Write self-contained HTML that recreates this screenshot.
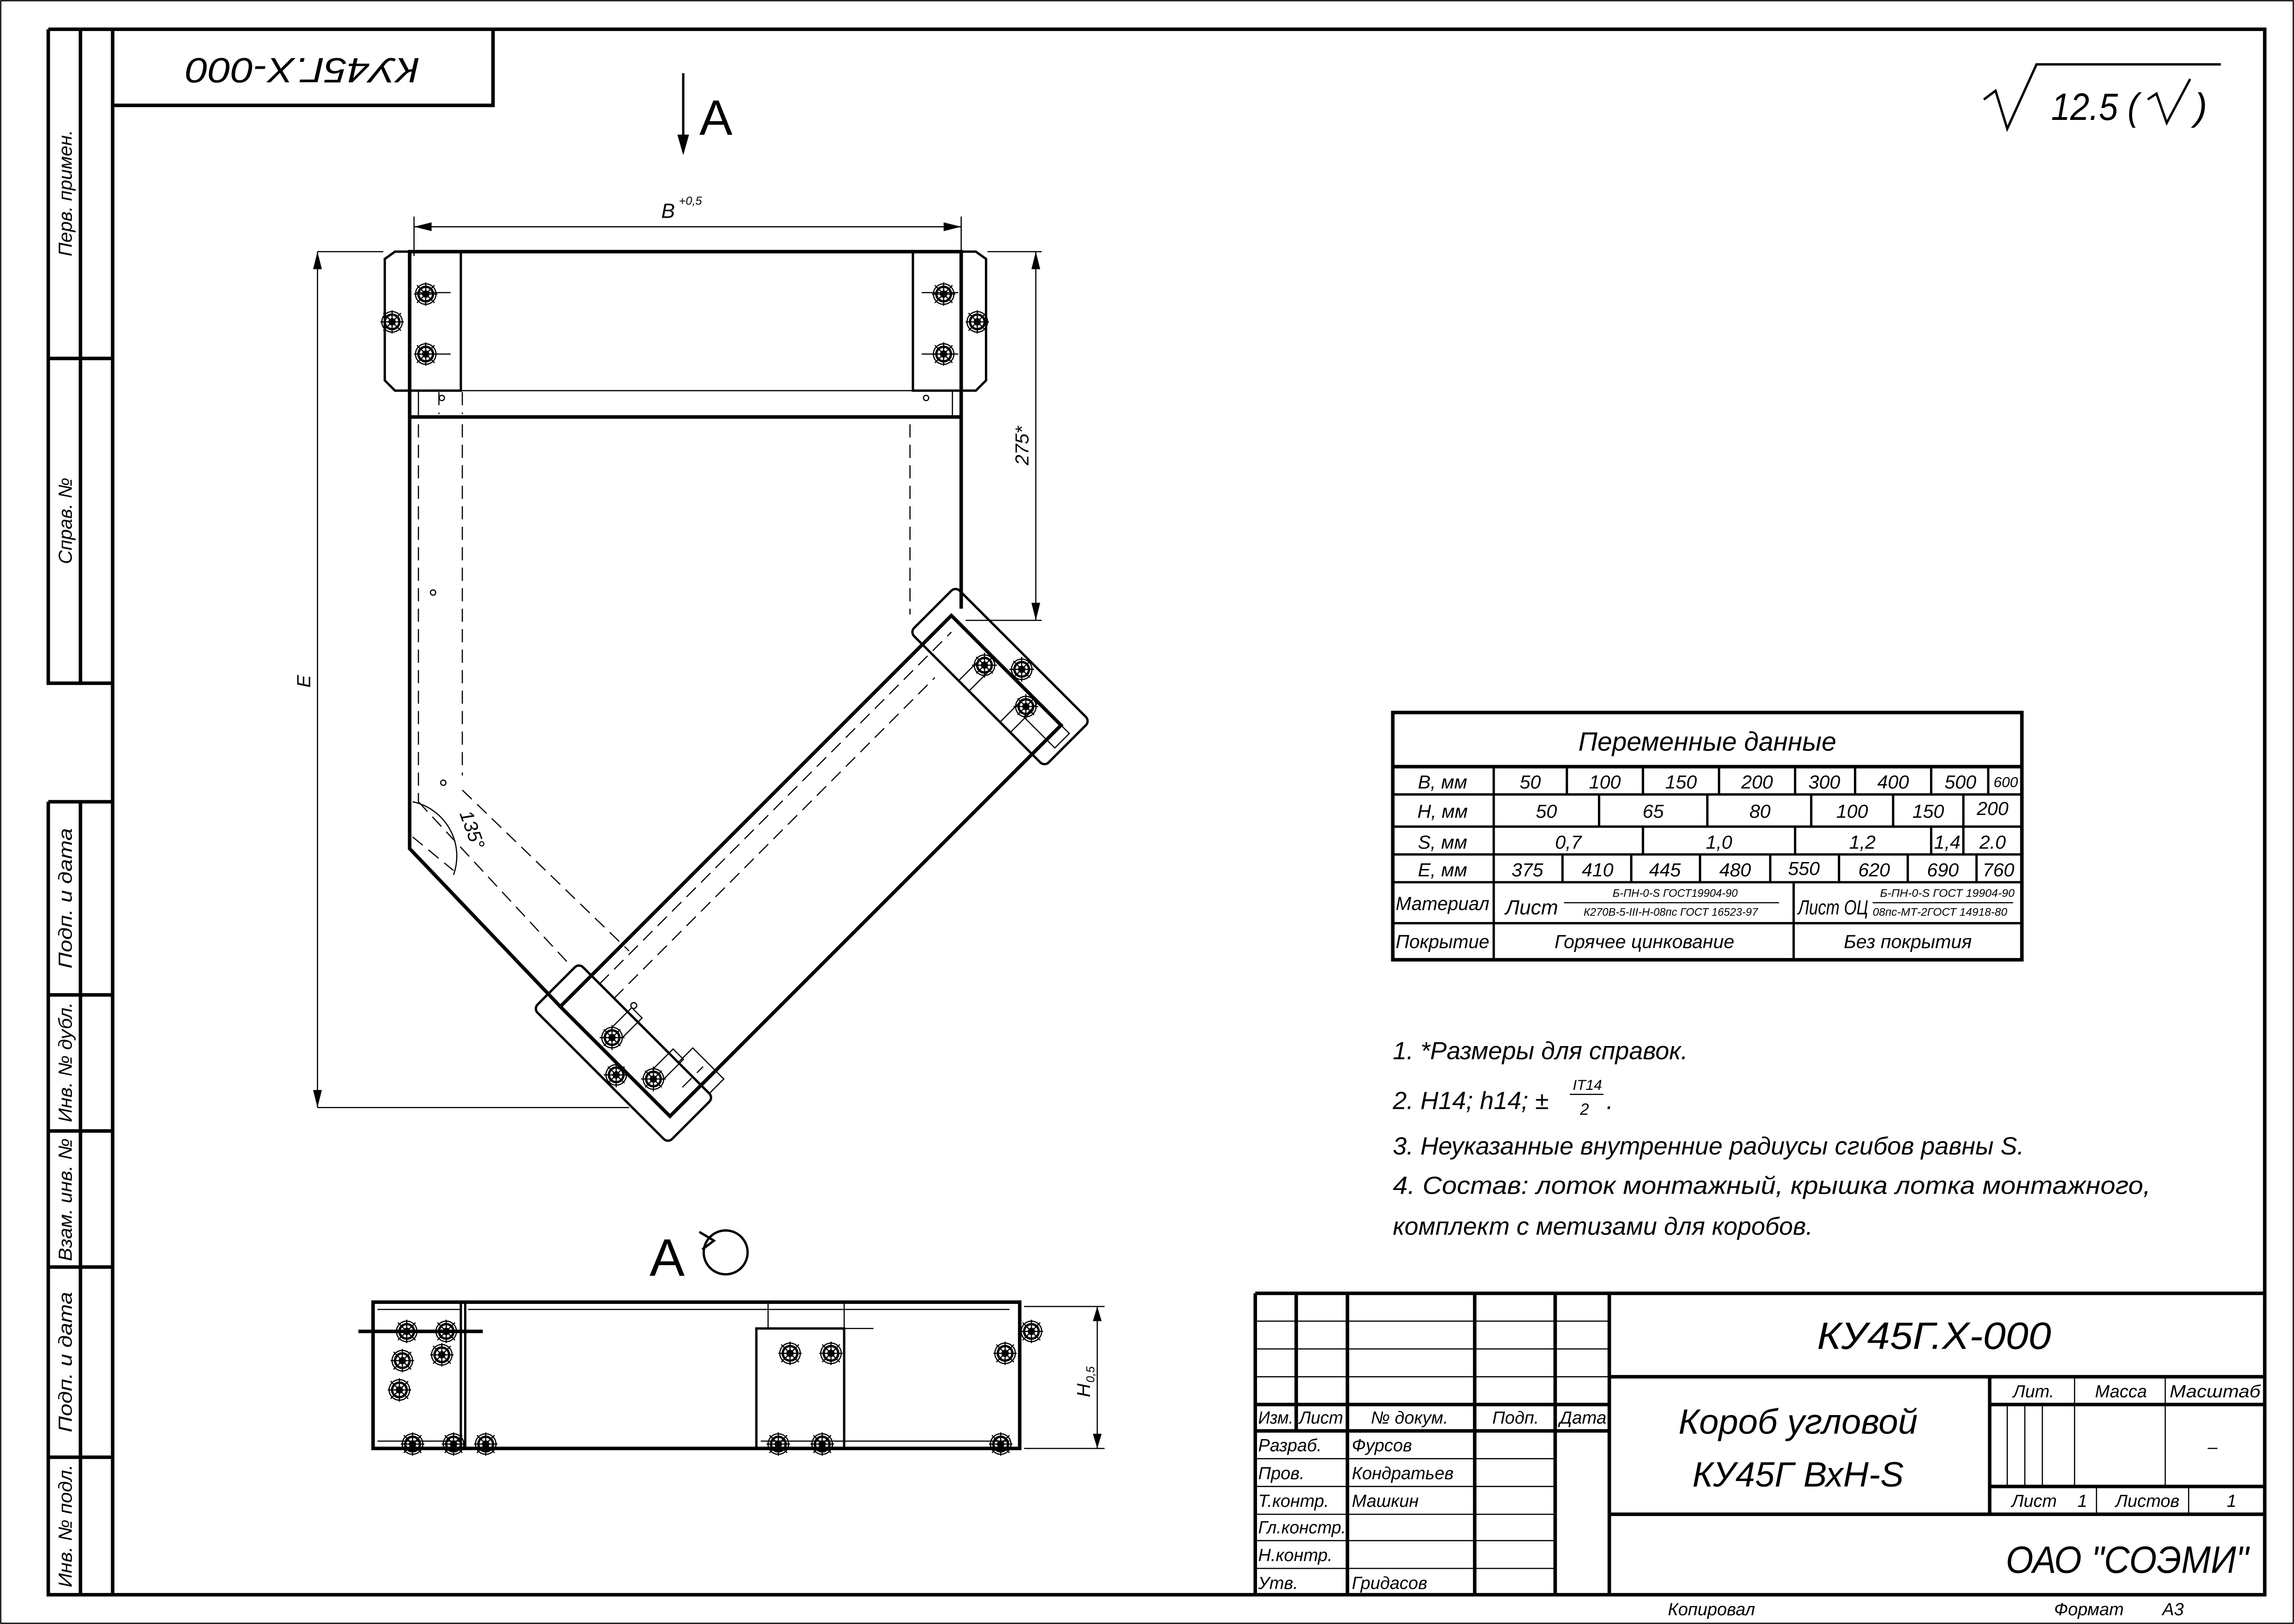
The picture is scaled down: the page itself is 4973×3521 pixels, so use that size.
<!DOCTYPE html>
<html><head><meta charset="utf-8"><style>
html,body{margin:0;padding:0;background:#fff}
svg{display:block}
text{font-family:"Liberation Sans","DejaVu Sans",sans-serif;font-style:italic;fill:#000}
.t{stroke:#000;stroke-width:0.8;fill:none}
.m{stroke:#000;stroke-width:1.6;fill:none}
.k{stroke:#000;stroke-width:2.4;fill:none}
.d{stroke:#000;stroke-width:0.8;fill:none;stroke-dasharray:9 5}
</style></head><body>
<svg width="4973" height="3521" viewBox="0 0 1568 1110" preserveAspectRatio="none" xmlns="http://www.w3.org/2000/svg">
<defs>
<g id="bolt"><circle r="7" class="t"/><circle r="5" class="m"/><circle r="2.5" fill="#000"/><path d="M-8 0H8M0-8V8M-6-6L6 6M-6 6L6-6" class="t"/></g>
</defs>
<rect x="0.5" y="0.5" width="1567" height="1109" class="t"/>
<rect x="77" y="20" width="1471" height="1070" class="k"/>
<path d="M33 20V467H77M55 20V467M33 245H77M33 20H77" class="k"/>
<path d="M33 548V1090H77M55 548V1090M33 548H77M33 680H77M33 773H77M33 866H77M33 996H77" class="k"/>
<g font-size="13">
<text transform="translate(49,132) rotate(-90)" text-anchor="middle">Перв. примен.</text>
<text transform="translate(49,356) rotate(-90)" text-anchor="middle">Справ. №</text>
<text transform="translate(49,614) rotate(-90)" text-anchor="middle" textLength="96" lengthAdjust="spacingAndGlyphs">Подп. и дата</text>
<text transform="translate(49,726) rotate(-90)" text-anchor="middle" textLength="82" lengthAdjust="spacingAndGlyphs">Инв. № дубл.</text>
<text transform="translate(49,820) rotate(-90)" text-anchor="middle" textLength="84" lengthAdjust="spacingAndGlyphs">Взам. инв. №</text>
<text transform="translate(49,931) rotate(-90)" text-anchor="middle" textLength="96" lengthAdjust="spacingAndGlyphs">Подп. и дата</text>
<text transform="translate(49,1043) rotate(-90)" text-anchor="middle" textLength="84" lengthAdjust="spacingAndGlyphs">Инв. № подл.</text>
</g>
<path d="M77 72H337V20" class="k"/>
<text transform="translate(207,46) rotate(180)" text-anchor="middle" dominant-baseline="middle" font-size="24" textLength="160" lengthAdjust="spacingAndGlyphs">КУ45Г.Х-000</text>
<path d="M1356 68L1364 62L1372 88L1392 44H1518" class="m"/>
<text x="1402" y="82" font-size="26" textLength="60" lengthAdjust="spacingAndGlyphs">12.5 (</text>
<path d="M1468 68L1474 64L1481 84L1497 54" class="m"/>
<text x="1500" y="82" font-size="26">)</text>
<path d="M467 50V104" class="m"/><path d="M467 106L463 92H471Z" fill="#000"/>
<text x="478" y="92" font-size="34" style="font-style:normal">A</text>

<path d="M283 155H657M283 148V175M657 148V175" class="t"/>
<path d="M283 155l12-3v6zM657 155l-12-3v6z" fill="#000"/>
<text x="452" y="149" font-size="14">B</text><text x="464" y="140" font-size="8">+0,5</text>
<path d="M217 172H262M217 172V757M217 757H430" class="t"/>
<path d="M217 172l-3 12h6zM217 757l-3-12h6z" fill="#000"/>
<text transform="translate(212,470) rotate(-90)" font-size="13">E</text>
<path d="M675 172H712M708 172V424M660 424H712" class="t"/>
<path d="M708 172l-3 12h6zM708 424l-3-12h6z" fill="#000"/>
<text transform="translate(703,318) rotate(-90)" font-size="13">275*</text>

<rect x="280" y="172" width="377" height="113" class="k"/>
<path d="M263 177L270 172H315V267H270L263 260Z" class="m"/>
<path d="M674 177L667 172H624V267H667L674 260Z" class="m"/>
<path d="M286 285V267H651V285" class="t"/>
<path d="M300 268V283M316 268V283" class="d"/>
<circle cx="302" cy="272" r="1.8" class="t"/><circle cx="633" cy="272" r="1.8" class="t"/>
<path d="M280 285V580L383 688" class="k"/>
<path d="M657 285V416" class="k"/>
<path d="M286 290V548M316 290V530M622 290V420" class="d"/>
<path d="M286 548L390 660M316 540L430 650" class="d"/>
<circle cx="296" cy="405" r="1.8" class="t"/><circle cx="303" cy="535" r="1.8" class="t"/>
<use href="#bolt" x="291" y="201"/><use href="#bolt" x="268" y="220"/><use href="#bolt" x="291" y="242"/>
<use href="#bolt" x="645" y="201"/><use href="#bolt" x="668" y="220"/><use href="#bolt" x="645" y="242"/>
<path d="M284 200H308M284 242H308M630 200H655M630 242H655" class="t"/>
<path d="M282 548A38 38 0 0 1 310 598" class="t"/>
<path d="M282 572L310 595" class="d"/>
<text transform="translate(314,556) rotate(70)" font-size="13">135°</text>

<g transform="translate(383,688) rotate(-45)">
<rect x="0" y="0" width="378" height="106" class="k"/>
<path d="M30 8H370M30 22H340M20 98H40" class="d"/>
<rect x="-14" y="-12" width="44" height="130" rx="4" class="m"/>
<rect x="350" y="-12" width="44" height="130" rx="4" class="m"/>
<rect x="30" y="84" width="14" height="30" class="t"/>
<rect x="364" y="84" width="14" height="30" class="t"/>
<circle cx="36" cy="35" r="2" class="t"/>
<use href="#bolt" x="10" y="40"/><use href="#bolt" x="10" y="80"/><use href="#bolt" x="-6" y="60"/>
<use href="#bolt" x="370" y="40"/><use href="#bolt" x="370" y="80"/><use href="#bolt" x="386" y="60"/>
<path d="M14 35h20v10h-20M14 75h20v10h-20M350 35h20v10h-20M350 75h20v10h-20" class="t"/>
</g>

<text x="444" y="872" font-size="36" style="font-style:normal">A</text>
<circle cx="496" cy="856" r="15" class="m"/><path d="M478 842L488 848L480 854" class="m"/>

<rect x="255" y="890" width="442" height="100" class="k"/>
<path d="M318 890V990M315 890V990" class="m"/>
<path d="M245 910H330" class="k"/>
<rect x="517" y="908" width="60" height="82" class="m"/>
<path d="M525 890V908M577 890V908M577 908H597" class="t"/>
<path d="M258 895H315M258 985H315M520 985H690M320 895H690" class="t"/>
<use href="#bolt" x="278" y="910"/><use href="#bolt" x="305" y="910"/><use href="#bolt" x="275" y="930"/><use href="#bolt" x="302" y="926"/><use href="#bolt" x="273" y="950"/>
<use href="#bolt" x="540" y="925"/><use href="#bolt" x="568" y="925"/><use href="#bolt" x="705" y="910"/><use href="#bolt" x="687" y="925"/>
<use href="#bolt" x="282" y="987"/><use href="#bolt" x="310" y="987"/><use href="#bolt" x="332" y="987"/><use href="#bolt" x="532" y="987"/><use href="#bolt" x="562" y="987"/><use href="#bolt" x="684" y="987"/>
<path d="M700 893H755M700 990H755M750 893V990" class="t"/>
<path d="M750 893l-3 10h6zM750 990l-3-10h6z" fill="#000"/>
<text transform="translate(745,955) rotate(-90)" font-size="13">H</text><text transform="translate(748,945) rotate(-90)" font-size="8">0,5</text>

<g class="k"><rect x="952" y="487" width="430" height="169"/><path d="M952 524H1382"/></g>
<path d="M952 543H1382M952 565H1382M952 584H1382M952 603H1382M952 631H1382M1021 524V656M1226 603V656" class="m"/>
<path d="M1071 524V543M1123 524V543M1175 524V543M1227 524V543M1268 524V543M1320 524V543M1359 524V543" class="m"/>
<path d="M1093 543V565M1167 543V565M1238 543V565M1294 543V565M1342 543V565" class="m"/>
<path d="M1123 565V584M1227 565V584M1320 565V584M1342 565V584" class="m"/>
<path d="M1068 584V603M1115 584V603M1162 584V603M1210 584V603M1257 584V603M1304 584V603M1351 584V603" class="m"/>
<text x="1167" y="513" font-size="18" text-anchor="middle">Переменные данные</text>
<g font-size="13" text-anchor="middle">
<text x="986" y="539">В, мм</text><text x="986" y="559">Н, мм</text><text x="986" y="580">S, мм</text><text x="986" y="599">Е, мм</text>
<text x="986" y="622" textLength="64" lengthAdjust="spacingAndGlyphs">Материал</text><text x="986" y="648" textLength="64" lengthAdjust="spacingAndGlyphs">Покрытие</text>
<text x="1046" y="539">50</text><text x="1097" y="539">100</text><text x="1149" y="539">150</text><text x="1201" y="539">200</text><text x="1247" y="539">300</text><text x="1294" y="539">400</text><text x="1340" y="539">500</text><text x="1371" y="538" font-size="10">600</text>
<text x="1057" y="559">50</text><text x="1130" y="559">65</text><text x="1203" y="559">80</text><text x="1266" y="559">100</text><text x="1318" y="559">150</text><text x="1362" y="557">200</text>
<text x="1072" y="580">0,7</text><text x="1175" y="580">1,0</text><text x="1273" y="580">1,2</text><text x="1331" y="580">1,4</text><text x="1362" y="580">2.0</text>
<text x="1044" y="599">375</text><text x="1092" y="599">410</text><text x="1138" y="599">445</text><text x="1186" y="599">480</text><text x="1233" y="598">550</text><text x="1281" y="599">620</text><text x="1328" y="599">690</text><text x="1366" y="599">760</text>
<text x="1124" y="648">Горячее цинкование</text><text x="1304" y="648">Без покрытия</text>
</g>
<text x="1029" y="625" font-size="14" textLength="36" lengthAdjust="spacingAndGlyphs">Лист</text>
<path d="M1069 617H1216M1280 617H1376" class="t"/>
<g font-size="7.5" text-anchor="middle"><text x="1145" y="613">Б-ПН-0-S ГОСТ19904-90</text><text x="1142" y="626">К270В-5-III-Н-08пс ГОСТ 16523-97</text>
<text x="1331" y="613" textLength="92" lengthAdjust="spacingAndGlyphs">Б-ПН-0-S ГОСТ 19904-90</text><text x="1326" y="626" textLength="92" lengthAdjust="spacingAndGlyphs">08пс-МТ-2ГОСТ 14918-80</text></g>
<text x="1229" y="625" font-size="14" textLength="48" lengthAdjust="spacingAndGlyphs">Лист ОЦ</text>

<g font-size="17">
<text x="952" y="724">1.  *Размеры для справок.</text>
<text x="952" y="758">2.  H14;  h14;  ±</text>
<text x="952" y="789">3.  Неуказанные внутренние радиусы сгибов равны S.</text>
<text x="952" y="816" textLength="518" lengthAdjust="spacingAndGlyphs">4.  Состав: лоток монтажный, крышка лотка монтажного,</text>
<text x="952" y="844">комплект с метизами для коробов.</text>
</g>
<text x="1075" y="745" font-size="10">IT14</text><path d="M1073 748H1096" class="t"/><text x="1080" y="762" font-size="11">2</text><text x="1098" y="758" font-size="17">.</text>

<path d="M858 884H1548M858 884V1090M1100 884V1090M1100 941H1548M1100 1035H1548M1360 941V1035M1360 960H1548M1360 1016H1548" class="k"/>
<path d="M886 884V978M921 884V1090M1008 884V1090M1063 884V1090M858 960H1100M858 978H1100" class="k"/>
<path d="M858 903H1100M858 922H1100M858 941H1100M858 997H1063M858 1016H1063M858 1035H1063M858 1053H1063M858 1072H1063" class="t"/>
<path d="M1418 941V1016M1480 941V1016M1372 960V1016M1384 960V1016M1396 960V1016M1433 1016V1035M1496 1016V1035" class="t"/>
<text x="1322" y="922" font-size="26" text-anchor="middle" textLength="160" lengthAdjust="spacingAndGlyphs">КУ45Г.Х-000</text>
<text x="1229" y="980" font-size="24" text-anchor="middle">Короб угловой</text>
<text x="1229" y="1016" font-size="24" text-anchor="middle">КУ45Г ВхН-S</text>
<text x="1454" y="1075" font-size="26" text-anchor="middle" textLength="166" lengthAdjust="spacingAndGlyphs">ОАО "СОЭМИ"</text>
<g font-size="12">
<text x="1376" y="955">Лит.</text><text x="1432" y="955">Масса</text><text x="1483" y="955" textLength="62" lengthAdjust="spacingAndGlyphs">Масштаб</text>
<text x="1509" y="993">–</text>
<text x="1375" y="1030">Лист</text><text x="1420" y="1030">1</text><text x="1446" y="1030">Листов</text><text x="1522" y="1030">1</text>
<text x="860" y="973" textLength="24" lengthAdjust="spacingAndGlyphs">Изм.</text><text x="888" y="973" textLength="30" lengthAdjust="spacingAndGlyphs">Лист</text><text x="937" y="973">№ докум.</text><text x="1020" y="973">Подп.</text><text x="1066" y="973" textLength="32" lengthAdjust="spacingAndGlyphs">Дата</text>
<text x="860" y="992">Разраб.</text><text x="924" y="992">Фурсов</text>
<text x="860" y="1011">Пров.</text><text x="924" y="1011">Кондратьев</text>
<text x="860" y="1030">Т.контр.</text><text x="924" y="1030">Машкин</text>
<text x="860" y="1048" textLength="60" lengthAdjust="spacingAndGlyphs">Гл.констр.</text>
<text x="860" y="1067">Н.контр.</text>
<text x="860" y="1086">Утв.</text><text x="924" y="1086">Гридасов</text>
<text x="1140" y="1104">Копировал</text><text x="1404" y="1104">Формат</text><text x="1478" y="1104">А3</text>
</g>
</svg>
</body></html>
